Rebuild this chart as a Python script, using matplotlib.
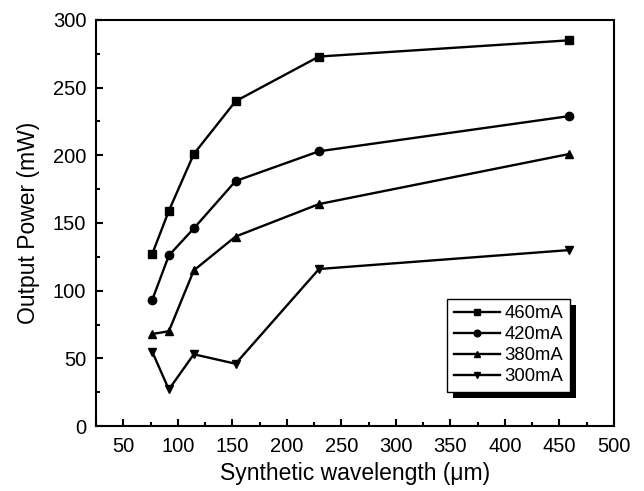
import matplotlib
matplotlib.use("Agg")
import matplotlib.pyplot as plt
from matplotlib.ticker import MultipleLocator
from matplotlib.patches import Rectangle

wavelength = [76.5, 91.8, 114.7, 153, 229.5, 459]
p460 = [127, 159, 201, 240, 273, 285]
p420 = [93, 126, 146, 181, 203, 229]
p380 = [68, 70, 115, 140, 164, 201]
p300 = [55, 27, 53, 46, 116, 130]
labels = ["460mA", "420mA", "380mA", "300mA"]
markers = ["s", "o", "^", "v"]

plt.rcParams['font.family'] = ['Liberation Sans', 'DejaVu Sans']

fig = plt.figure(figsize=(6.44, 4.91), dpi=100)
ax = fig.add_axes([96 / 644, 65 / 491, 518 / 644, 406 / 491])

for y, lab, m in zip([p460, p420, p380, p300], labels, markers):
    ax.plot(wavelength, y, color='black', lw=1.7, marker=m, markersize=6, label=lab)

ax.set_xlim(25, 500)
ax.set_ylim(0, 300)
ax.xaxis.set_major_locator(MultipleLocator(50))
ax.xaxis.set_minor_locator(MultipleLocator(25))
ax.yaxis.set_major_locator(MultipleLocator(50))
ax.yaxis.set_minor_locator(MultipleLocator(25))
ax.tick_params(which='both', direction='in', top=False, right=False, labelsize=14.5, width=1.5)
ax.tick_params(which='major', length=5)
ax.tick_params(which='minor', length=3)
ax.tick_params(axis='x', pad=8)
ax.tick_params(axis='y', pad=7)
for s in ax.spines.values():
    s.set_linewidth(1.5)

ax.set_xlabel("Synthetic wavelength (\u03bcm)", fontsize=16.5, labelpad=4)
ax.set_ylabel("Output Power (mW)", fontsize=16.5, labelpad=9)

leg = ax.legend(loc='lower right', bbox_to_anchor=(0.915, 0.084), borderaxespad=0,
                fontsize=13.3, frameon=True,
                fancybox=False, shadow=False, edgecolor='black', framealpha=1,
                handlelength=2.5, borderpad=0.35, labelspacing=0.22, handletextpad=0.25,
                markerscale=0.8)
leg.get_frame().set_linewidth(1.0)

fig.canvas.draw()
bb = leg.get_window_extent()
shadow = Rectangle((bb.x0 + 6, bb.y0 - 6), bb.width, bb.height, transform=None,
                   facecolor='black', edgecolor='none', zorder=leg.get_zorder() - 0.1)
ax.add_artist(shadow)

fig.savefig("out.png", dpi=100)
